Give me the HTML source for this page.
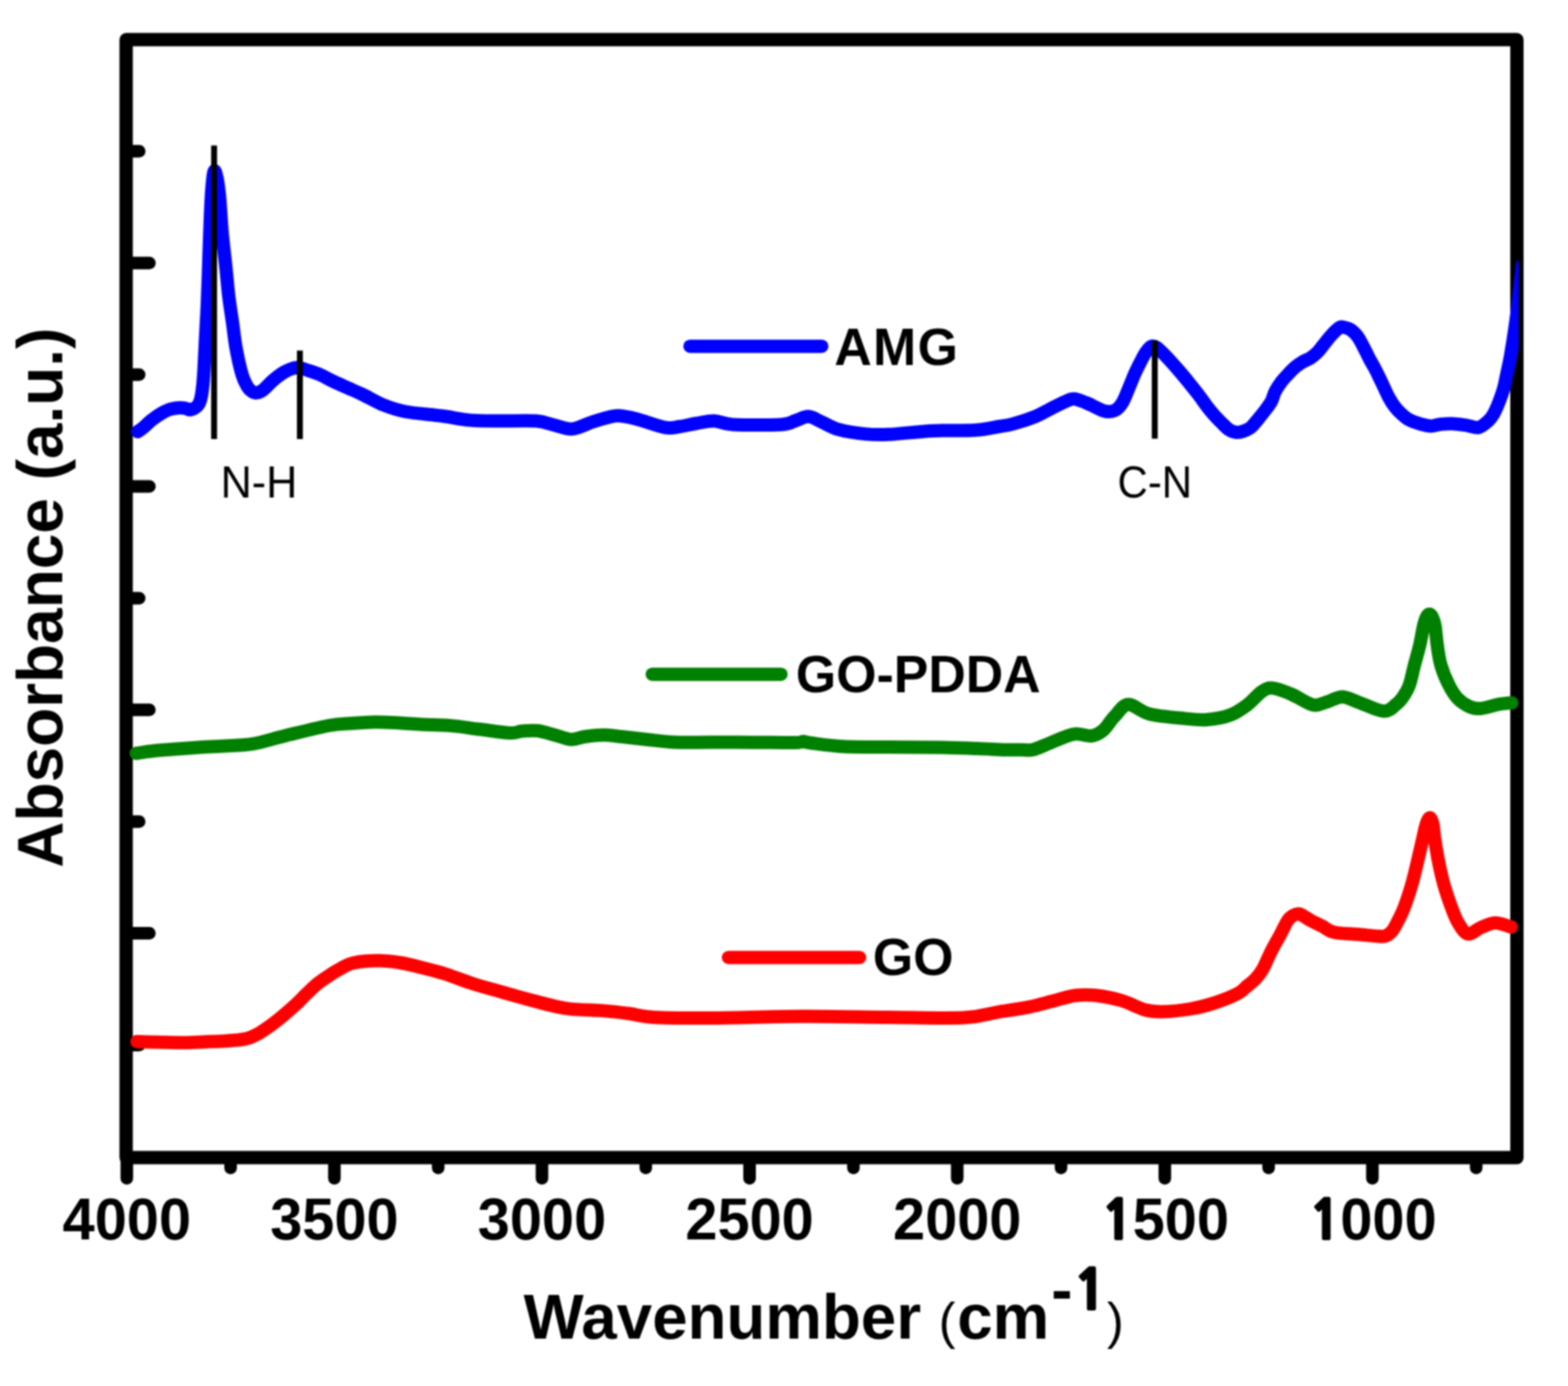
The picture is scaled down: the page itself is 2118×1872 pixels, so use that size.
<!DOCTYPE html>
<html><head><meta charset="utf-8"><title>FTIR spectra</title>
<style>
html,body{margin:0;padding:0;background:#fff;}
body{width:2118px;height:1872px;overflow:hidden;}
svg{display:block;filter:blur(1px);}
</style></head>
<body>
<svg width="2118" height="1872" viewBox="0 0 2118 1872">
<rect width="2118" height="1872" fill="#fff"/>
<defs><clipPath id="pc"><rect x="150" y="40" width="1901.5" height="1540"/></clipPath></defs>


<g stroke="#000" stroke-width="17" stroke-linecap="round" fill="none">
<line x1="171.3" y1="1563.6" x2="171.3" y2="1591.5"/><line x1="311.5" y1="1563.6" x2="311.5" y2="1577.5"/><line x1="451.7" y1="1563.6" x2="451.7" y2="1591.5"/><line x1="591.9" y1="1563.6" x2="591.9" y2="1577.5"/><line x1="732.1" y1="1563.6" x2="732.1" y2="1591.5"/><line x1="872.3" y1="1563.6" x2="872.3" y2="1577.5"/><line x1="1012.5" y1="1563.6" x2="1012.5" y2="1591.5"/><line x1="1152.8" y1="1563.6" x2="1152.8" y2="1577.5"/><line x1="1293.0" y1="1563.6" x2="1293.0" y2="1591.5"/><line x1="1433.2" y1="1563.6" x2="1433.2" y2="1577.5"/><line x1="1573.4" y1="1563.6" x2="1573.4" y2="1591.5"/><line x1="1713.6" y1="1563.6" x2="1713.6" y2="1577.5"/><line x1="1853.8" y1="1563.6" x2="1853.8" y2="1591.5"/><line x1="1994.0" y1="1563.6" x2="1994.0" y2="1577.5"/><line x1="170.4" y1="204.3" x2="188.0" y2="204.3"/><line x1="170.4" y1="355.2" x2="201.8" y2="355.2"/><line x1="170.4" y1="506.1" x2="188.0" y2="506.1"/><line x1="170.4" y1="657.0" x2="201.8" y2="657.0"/><line x1="170.4" y1="807.9" x2="188.0" y2="807.9"/><line x1="170.4" y1="958.8" x2="201.8" y2="958.8"/><line x1="170.4" y1="1109.7" x2="188.0" y2="1109.7"/><line x1="170.4" y1="1260.6" x2="201.8" y2="1260.6"/><line x1="170.4" y1="1411.5" x2="188.0" y2="1411.5"/>
</g>
<rect x="170.4" y="53.6" width="1878.6" height="1510.0" fill="none" stroke="#000" stroke-width="18" stroke-linejoin="round"/>
<g fill="none" stroke-linecap="round" stroke-linejoin="round">
<path d="M185.0 1406.8 C189.2 1406.9 199.4 1407.3 210.0 1407.5 C220.6 1407.7 236.6 1408.3 248.3 1408.2 C260.0 1408.1 271.4 1407.3 280.0 1407.0 C288.6 1406.7 293.3 1406.6 300.0 1406.2 C306.7 1405.8 314.1 1405.5 320.0 1404.8 C325.9 1404.1 330.5 1403.8 335.7 1402.1 C340.9 1400.4 346.1 1397.7 351.3 1394.7 C356.5 1391.7 361.8 1387.9 367.0 1384.1 C372.2 1380.2 377.4 1376.0 382.6 1371.6 C387.8 1367.2 393.1 1362.7 398.3 1357.9 C403.5 1353.1 408.7 1347.6 413.9 1342.6 C419.1 1337.6 424.4 1332.3 429.6 1328.1 C434.8 1323.9 440.0 1320.6 445.2 1317.2 C450.4 1313.8 455.7 1310.5 460.9 1307.8 C466.1 1305.0 468.3 1302.4 476.6 1300.7 C484.9 1299.0 499.6 1297.6 510.5 1297.6 C521.4 1297.6 531.9 1298.9 541.8 1300.5 C551.7 1302.1 560.3 1304.6 570.0 1307.0 C579.7 1309.4 588.6 1311.4 600.0 1315.0 C611.4 1318.6 625.0 1324.2 638.3 1328.5 C651.6 1332.8 667.0 1336.8 680.0 1340.5 C693.0 1344.2 702.4 1347.2 716.6 1350.8 C730.9 1354.4 749.2 1359.8 765.5 1362.2 C781.8 1364.6 800.3 1364.0 814.4 1365.1 C828.5 1366.2 838.6 1367.5 850.0 1369.0 C861.4 1370.5 864.7 1373.0 883.0 1374.0 C901.3 1375.0 926.8 1375.2 960.0 1375.0 C993.2 1374.8 1042.0 1373.0 1082.0 1372.8 C1122.0 1372.6 1163.3 1373.7 1200.0 1374.0 C1236.7 1374.3 1277.7 1375.7 1302.0 1374.6 C1326.3 1373.5 1331.3 1369.7 1346.0 1367.3 C1360.7 1364.9 1377.5 1362.6 1390.0 1360.1 C1402.5 1357.6 1410.9 1354.9 1421.3 1352.3 C1431.7 1349.7 1442.7 1345.8 1452.6 1344.5 C1462.5 1343.2 1470.4 1343.3 1480.8 1344.5 C1491.2 1345.7 1504.2 1348.2 1515.2 1351.5 C1526.2 1354.8 1537.5 1361.5 1546.6 1364.0 C1555.7 1366.5 1559.6 1366.7 1570.0 1366.4 C1580.4 1366.2 1597.5 1364.5 1609.2 1362.5 C1621.0 1360.5 1630.1 1358.0 1640.5 1354.6 C1650.9 1351.2 1664.4 1345.8 1671.8 1342.0 C1679.2 1338.2 1680.7 1335.0 1684.7 1331.7 C1688.7 1328.4 1692.5 1325.9 1696.0 1322.0 C1699.5 1318.1 1702.5 1314.5 1706.0 1308.4 C1709.5 1302.3 1713.0 1292.9 1716.9 1285.2 C1720.8 1277.5 1725.9 1268.9 1729.6 1262.0 C1733.3 1255.1 1736.2 1248.2 1738.9 1244.0 C1741.6 1239.8 1743.3 1238.6 1746.0 1237.0 C1748.7 1235.4 1751.1 1233.4 1755.2 1234.5 C1759.3 1235.6 1765.5 1240.6 1770.7 1243.4 C1775.9 1246.2 1781.0 1248.4 1786.2 1251.1 C1791.5 1253.8 1794.1 1257.5 1802.2 1259.3 C1810.3 1261.1 1824.8 1261.1 1834.8 1262.0 C1844.8 1262.9 1855.8 1264.2 1862.0 1264.5 C1868.2 1264.8 1869.0 1265.1 1872.0 1264.0 C1875.0 1262.9 1877.6 1260.7 1880.0 1258.0 C1882.4 1255.3 1883.6 1253.0 1886.3 1247.8 C1889.0 1242.6 1892.9 1235.5 1896.3 1226.7 C1899.7 1217.9 1903.7 1205.7 1906.8 1195.2 C1909.9 1184.7 1912.2 1174.1 1914.7 1163.6 C1917.2 1153.1 1920.1 1140.2 1922.0 1132.1 C1923.9 1124.0 1924.5 1119.6 1926.0 1115.0 C1927.5 1110.4 1929.4 1104.8 1931.0 1104.5 C1932.6 1104.2 1934.4 1108.4 1935.5 1113.0 C1936.6 1117.6 1936.5 1123.7 1937.8 1132.1 C1939.1 1140.5 1941.0 1153.1 1943.1 1163.6 C1945.2 1174.1 1947.5 1184.7 1950.5 1195.2 C1953.5 1205.7 1957.8 1218.1 1961.0 1226.7 C1964.2 1235.3 1966.3 1241.2 1970.0 1247.0 C1973.7 1252.8 1978.0 1260.5 1983.0 1261.5 C1988.0 1262.5 1993.9 1255.5 2000.0 1253.0 C2006.1 1250.5 2012.6 1246.8 2019.5 1246.6 C2026.4 1246.4 2037.6 1251.1 2041.2 1252.0" stroke="#ff0000" stroke-width="18"/>
<path d="M184.0 1017.5 C188.2 1016.9 199.7 1015.0 209.0 1014.0 C218.3 1013.0 230.2 1012.2 240.0 1011.5 C249.8 1010.8 257.0 1010.2 267.8 1009.5 C278.6 1008.8 292.6 1008.3 305.0 1007.5 C317.4 1006.7 328.8 1006.9 342.2 1004.6 C355.6 1002.3 368.3 997.9 385.3 993.8 C402.3 989.7 429.1 982.8 444.0 980.0 C458.9 977.2 464.6 977.8 475.0 977.0 C485.4 976.2 495.8 975.3 506.6 975.2 C517.4 975.1 529.4 976.0 540.0 976.5 C550.6 977.0 558.5 977.9 570.0 978.5 C581.5 979.1 596.0 979.0 609.0 980.1 C622.0 981.2 634.7 983.4 648.0 985.0 C661.3 986.6 679.5 989.6 689.0 990.0 C698.5 990.4 698.8 988.0 705.0 987.5 C711.2 987.0 718.8 986.1 726.3 987.0 C733.8 987.9 742.5 991.0 750.0 993.0 C757.5 995.0 764.7 998.4 771.4 998.7 C778.1 999.0 782.8 996.0 790.0 995.0 C797.2 994.0 806.1 992.8 814.4 992.8 C822.7 992.8 830.2 994.0 840.0 995.0 C849.8 996.0 861.0 997.4 873.0 998.7 C885.0 1000.0 897.5 1002.0 912.0 1002.6 C926.5 1003.2 942.0 1002.6 960.0 1002.6 C978.0 1002.6 1000.8 1002.6 1020.0 1002.7 C1039.2 1002.8 1064.2 1003.2 1075.0 1003.0 C1085.8 1002.8 1081.7 1001.4 1085.0 1001.5 C1088.3 1001.6 1086.0 1002.4 1095.0 1003.5 C1104.0 1004.6 1121.5 1007.3 1139.0 1008.2 C1156.5 1009.1 1177.9 1008.8 1200.0 1009.0 C1222.1 1009.2 1251.4 1009.1 1271.4 1009.4 C1291.4 1009.7 1305.7 1010.5 1320.0 1011.0 C1334.3 1011.5 1347.3 1012.4 1357.3 1012.7 C1367.3 1013.0 1373.6 1012.7 1380.0 1012.7 C1386.4 1012.7 1389.2 1014.1 1395.7 1012.5 C1402.2 1010.9 1409.9 1006.8 1419.0 1003.3 C1428.1 999.8 1441.2 993.1 1450.4 991.6 C1459.6 990.1 1467.4 994.9 1474.0 994.0 C1480.6 993.1 1484.8 990.8 1490.0 986.5 C1495.2 982.2 1499.5 973.8 1505.2 968.0 C1510.9 962.2 1516.2 952.1 1524.0 951.5 C1531.8 950.9 1539.7 961.1 1552.2 964.2 C1564.7 967.4 1586.2 969.1 1599.2 970.4 C1612.2 971.7 1620.1 972.8 1630.5 972.0 C1640.9 971.2 1652.7 969.2 1661.8 965.8 C1670.9 962.4 1678.2 957.0 1685.3 951.7 C1692.4 946.4 1698.9 937.7 1704.5 934.0 C1710.1 930.3 1712.4 928.8 1719.0 929.4 C1725.6 930.0 1735.2 933.8 1744.3 937.6 C1753.3 941.4 1765.4 950.2 1773.3 952.0 C1781.2 953.8 1784.8 950.2 1791.4 948.4 C1798.0 946.6 1805.9 941.2 1813.1 941.2 C1820.3 941.2 1825.5 945.2 1834.8 948.4 C1844.1 951.6 1860.3 960.2 1868.9 960.6 C1877.5 961.0 1882.1 954.2 1886.6 950.8 C1891.1 947.4 1893.1 944.3 1896.0 940.0 C1898.9 935.7 1901.4 932.0 1903.8 925.1 C1906.2 918.2 1908.2 907.5 1910.5 898.6 C1912.8 889.8 1915.5 880.9 1917.6 872.0 C1919.7 863.1 1921.4 851.7 1922.9 845.4 C1924.4 839.1 1925.2 836.6 1926.5 834.0 C1927.8 831.4 1929.5 829.6 1930.9 829.6 C1932.3 829.6 1933.8 831.4 1935.0 834.0 C1936.2 836.6 1937.3 839.1 1938.4 845.4 C1939.5 851.7 1940.2 863.1 1941.5 872.0 C1942.8 880.9 1943.8 889.8 1946.4 898.6 C1949.0 907.5 1953.3 917.7 1957.0 925.1 C1960.7 932.5 1964.0 938.1 1968.5 942.9 C1973.0 947.7 1978.8 951.6 1984.0 954.0 C1989.2 956.4 1993.2 957.5 2000.0 957.0 C2006.8 956.5 2017.9 952.5 2024.9 951.2 C2031.9 949.9 2039.2 949.6 2042.0 949.3" stroke="#008000" stroke-width="18"/>
<path d="M186.0 583.0 C187.2 582.2 189.8 580.6 193.0 578.0 C196.2 575.4 201.1 570.4 205.0 567.3 C208.9 564.2 212.7 561.5 216.5 559.2 C220.3 556.9 224.1 554.8 228.0 553.4 C231.9 552.0 236.3 551.4 240.0 551.0 C243.7 550.6 247.2 550.9 250.0 551.3 C252.8 551.7 254.7 553.6 257.0 553.5 C259.3 553.4 262.0 551.9 264.0 550.5 C266.0 549.1 267.7 547.6 269.0 545.0 C270.3 542.4 271.2 539.2 272.0 535.0 C272.8 530.8 273.4 525.8 274.0 520.0 C274.6 514.2 275.0 508.3 275.5 500.0 C276.0 491.7 276.5 480.0 277.0 470.0 C277.5 460.0 278.0 449.8 278.5 440.0 C279.0 430.2 279.5 422.7 280.0 411.0 C280.5 399.3 280.9 386.3 281.5 370.0 C282.1 353.7 282.7 330.5 283.4 313.0 C284.1 295.5 284.6 278.5 285.5 265.0 C286.4 251.5 287.8 236.2 289.0 232.0 C290.2 227.8 291.8 234.5 293.0 240.0 C294.2 245.5 295.3 252.8 296.5 265.0 C297.7 277.2 298.6 297.2 300.0 313.0 C301.4 328.8 303.5 345.5 305.0 360.0 C306.5 374.5 307.5 387.5 309.0 400.0 C310.5 412.5 312.3 423.2 314.0 435.0 C315.7 446.8 316.8 459.2 319.0 471.0 C321.2 482.8 324.5 497.5 327.0 506.0 C329.5 514.5 331.8 518.2 334.0 522.0 C336.2 525.8 338.0 527.1 340.0 528.5 C342.0 529.9 343.5 530.9 346.0 530.6 C348.5 530.4 351.1 529.9 355.0 527.0 C358.9 524.1 364.7 517.2 369.7 513.0 C374.7 508.8 379.8 504.8 385.0 502.0 C390.2 499.2 396.0 496.8 401.0 496.5 C406.0 496.2 409.9 498.4 415.0 500.0 C420.1 501.6 425.9 503.3 431.7 505.8 C437.5 508.3 443.6 512.0 450.0 515.0 C456.4 518.0 463.3 521.0 470.0 524.0 C476.7 527.0 482.0 529.2 490.0 533.0 C498.0 536.8 508.4 543.2 518.0 547.0 C527.6 550.8 534.5 553.5 547.6 556.0 C560.7 558.5 581.9 559.9 596.6 561.8 C611.3 563.7 622.6 566.5 635.7 567.6 C648.8 568.7 660.3 568.4 675.0 568.6 C689.7 568.8 711.6 567.7 723.8 568.6 C736.0 569.5 739.9 572.2 748.0 574.0 C756.1 575.8 764.0 580.1 772.7 579.4 C781.4 578.7 791.9 572.6 800.0 570.0 C808.1 567.4 815.6 565.1 821.6 563.7 C827.6 562.3 829.3 561.2 835.7 561.6 C842.1 562.0 849.6 563.4 860.0 566.0 C870.4 568.6 888.4 575.6 898.0 577.3 C907.6 579.0 910.8 577.2 917.8 576.3 C924.8 575.4 932.2 573.3 940.0 572.0 C947.8 570.7 956.4 568.3 964.8 568.5 C973.2 568.7 975.3 572.6 990.3 573.4 C1005.3 574.2 1040.7 574.3 1054.8 573.4 C1068.9 572.5 1068.8 569.8 1075.0 568.0 C1081.2 566.2 1086.2 562.3 1092.0 562.6 C1097.8 562.9 1103.2 567.1 1110.0 570.0 C1116.8 572.9 1123.3 577.5 1133.0 580.2 C1142.7 582.9 1157.1 585.0 1168.3 586.1 C1179.5 587.2 1184.9 587.5 1200.0 586.8 C1215.1 586.1 1239.1 582.9 1258.7 581.9 C1278.3 580.9 1302.2 581.9 1317.4 580.9 C1332.6 579.9 1341.4 577.4 1350.0 576.0 C1358.6 574.6 1360.9 574.6 1369.0 572.4 C1377.1 570.2 1390.3 565.9 1398.5 562.6 C1406.7 559.3 1411.5 556.1 1418.0 552.8 C1424.5 549.5 1432.2 545.3 1437.6 543.0 C1443.0 540.7 1445.6 538.6 1450.5 538.8 C1455.4 539.0 1461.8 542.0 1467.0 544.0 C1472.2 546.0 1477.4 549.0 1481.7 550.9 C1486.0 552.8 1489.0 554.9 1493.0 555.5 C1497.0 556.1 1502.2 556.2 1506.0 554.3 C1509.8 552.4 1512.7 549.4 1516.0 544.0 C1519.3 538.6 1522.9 528.5 1525.7 522.0 C1528.5 515.5 1530.3 510.3 1532.7 505.0 C1535.1 499.7 1537.4 495.0 1540.0 490.0 C1542.6 485.0 1545.5 479.0 1548.3 475.2 C1551.1 471.4 1553.7 467.5 1557.0 467.4 C1560.3 467.3 1562.3 468.8 1568.3 474.5 C1574.3 480.2 1584.9 491.9 1593.2 501.5 C1601.5 511.1 1611.9 524.2 1618.0 532.0 C1624.1 539.8 1626.3 543.6 1630.0 548.4 C1633.7 553.2 1636.7 556.9 1640.0 560.7 C1643.3 564.5 1646.7 567.7 1650.0 571.0 C1653.3 574.3 1656.7 578.1 1660.0 580.3 C1663.3 582.5 1666.7 583.7 1670.0 584.0 C1673.3 584.3 1676.7 583.4 1680.0 582.2 C1683.3 581.0 1686.7 579.8 1690.0 577.0 C1693.3 574.2 1696.7 569.4 1700.0 565.4 C1703.3 561.4 1707.0 556.9 1709.9 553.0 C1712.8 549.1 1715.3 546.0 1717.4 542.0 C1719.5 538.0 1720.2 533.1 1722.5 528.7 C1724.8 524.3 1728.2 519.3 1731.1 515.4 C1734.0 511.5 1736.9 508.6 1740.0 505.3 C1743.1 502.0 1746.5 498.5 1749.8 495.7 C1753.1 492.9 1756.4 490.7 1759.7 488.7 C1763.0 486.7 1766.4 485.9 1769.7 483.8 C1773.0 481.7 1776.3 479.2 1779.6 475.8 C1782.9 472.4 1786.3 467.4 1789.6 463.3 C1792.9 459.2 1796.3 454.9 1799.6 451.4 C1802.9 447.9 1807.0 444.0 1809.5 442.4 C1812.0 440.8 1812.0 441.4 1814.5 441.9 C1817.0 442.4 1821.2 443.1 1824.5 445.4 C1827.8 447.6 1831.1 450.7 1834.4 455.4 C1837.7 460.1 1841.8 468.9 1844.4 473.8 C1847.0 478.7 1847.8 480.8 1850.0 485.0 C1852.2 489.2 1854.9 493.6 1857.7 498.9 C1860.5 504.2 1863.6 510.9 1866.6 517.0 C1869.5 523.1 1872.5 530.2 1875.4 535.7 C1878.4 541.2 1881.3 545.9 1884.3 549.8 C1887.2 553.7 1890.1 556.4 1893.1 559.1 C1896.0 561.8 1899.0 564.4 1902.0 566.2 C1905.0 568.1 1908.0 569.1 1910.9 570.2 C1913.9 571.3 1916.0 572.0 1919.7 572.9 C1923.4 573.8 1928.6 575.5 1933.0 575.5 C1937.4 575.5 1941.1 573.5 1946.3 573.0 C1951.5 572.5 1958.1 572.1 1964.0 572.4 C1969.9 572.7 1976.2 573.8 1981.7 574.6 C1987.2 575.4 1992.2 578.4 1997.0 577.4 C2001.8 576.4 2007.1 571.3 2010.4 568.4 C2013.7 565.5 2014.7 563.9 2017.0 560.0 C2019.3 556.1 2021.7 550.8 2024.0 545.0 C2026.3 539.2 2029.0 532.2 2031.0 525.0 C2033.0 517.8 2034.4 509.6 2036.0 502.0 C2037.6 494.4 2038.7 490.7 2040.6 479.5 C2042.5 468.3 2045.5 449.4 2047.5 434.6 C2049.5 419.9 2051.3 403.8 2052.8 391.0 C2054.3 378.2 2055.9 363.5 2056.5 358.0" stroke="#0000ff" stroke-width="18" clip-path="url(#pc)"/>
</g>
<g stroke="#000" stroke-width="8" stroke-linecap="butt">
<line x1="289.2" y1="196.6" x2="289.2" y2="593"/>
<line x1="405.1" y1="473.5" x2="405.1" y2="593"/>
<line x1="1559.8" y1="460" x2="1559.8" y2="592.5"/>
</g>
<g fill="none" stroke-linecap="round" stroke-width="18">
<line x1="932" y1="467.7" x2="1110" y2="467.7" stroke="#0000ff"/>
<line x1="881" y1="910.7" x2="1055" y2="910.7" stroke="#008000"/>
<line x1="984" y1="1293.2" x2="1161" y2="1293.2" stroke="#ff0000"/>
</g>
<g font-family="'Liberation Sans', Arial, sans-serif" font-weight="bold" fill="#000">
<g font-size="78">
<text transform="translate(171.3,1673.5) scale(1,1.030)" text-anchor="middle">4000</text><text transform="translate(451.7,1673.5) scale(1,1.030)" text-anchor="middle">3500</text><text transform="translate(732.1,1673.5) scale(1,1.030)" text-anchor="middle">3000</text><text transform="translate(1012.5,1673.5) scale(1,1.030)" text-anchor="middle">2500</text><text transform="translate(1293.0,1673.5) scale(1,1.030)" text-anchor="middle">2000</text><text transform="translate(0,1673.5) scale(1,1.030)"><tspan x="1488.1" font-family="NanumGothic, 'Liberation Sans', sans-serif" font-weight="800" font-size="71" stroke="#000" stroke-width="2">1</tspan><tspan x="1530.0">500</tspan></text><text transform="translate(0,1673.5) scale(1,1.030)"><tspan x="1768.5" font-family="NanumGothic, 'Liberation Sans', sans-serif" font-weight="800" font-size="71" stroke="#000" stroke-width="2">1</tspan><tspan x="1810.4">000</tspan></text>
</g>
<text x="1127" y="492.9" font-size="70" letter-spacing="1.8">AMG</text>
<text x="1075" y="935.3" font-size="70">GO-PDDA</text>
<text x="1179" y="1317" font-size="70">GO</text>
<text transform="translate(84.3,1172) rotate(-90)" font-size="86.4">Absorbance (a.u.)</text>
<text y="1808.3" font-size="86"><tspan x="707.3">Wavenumber </tspan><tspan x="1268" font-weight="normal" font-size="68">(</tspan><tspan x="1293">cm</tspan><tspan x="1420" y="1771">-</tspan><tspan x="1450" y="1768.5" font-family="NanumGothic, 'Liberation Sans', sans-serif" font-weight="800" font-size="75" stroke="#000" stroke-width="2">1</tspan><tspan x="1495.3" y="1808.3" font-weight="normal" font-size="68">)</tspan></text>
</g>
<g font-family="'Liberation Sans', Arial, sans-serif" font-size="61" fill="#000">
<text transform="translate(298,672) scale(0.956,1)">N-H</text>
<text transform="translate(1509.5,671.6) scale(0.93,1)">C-N</text>
</g>
</svg>
</body></html>
